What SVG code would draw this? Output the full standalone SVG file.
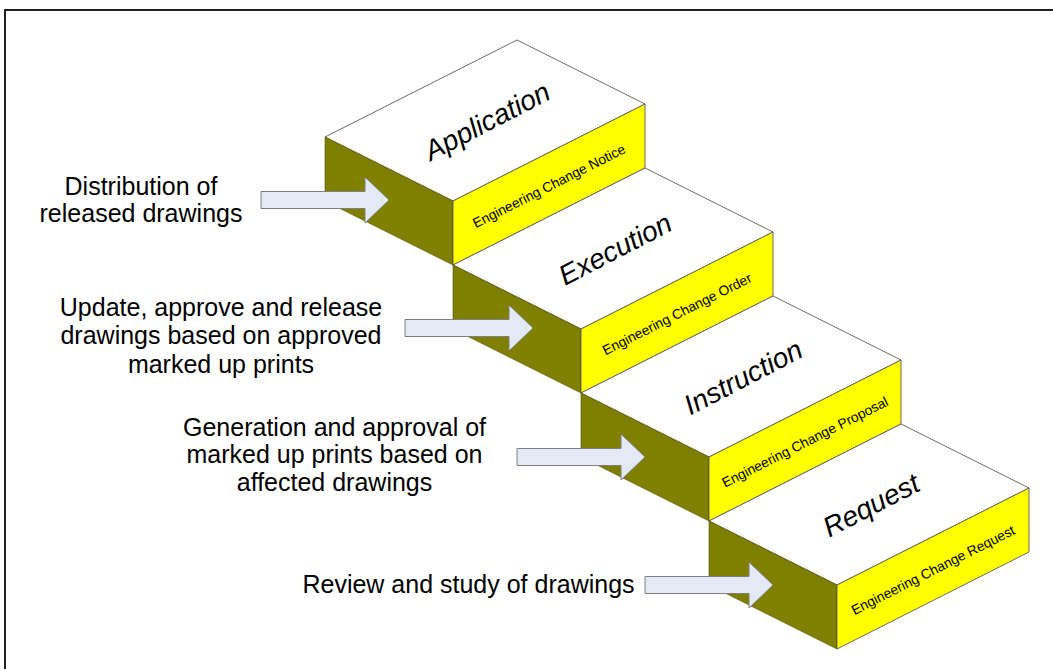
<svg xmlns="http://www.w3.org/2000/svg" width="1053" height="669" viewBox="0 0 1053 669">
<style>
.top{fill:#ffffff;stroke:#5a5a5a;stroke-width:0.9;stroke-linejoin:round}
.left{fill:#808000;stroke:#4d4d00;stroke-width:0.6;stroke-linejoin:round}
.front{fill:#ffff00;stroke:#5a5a5a;stroke-width:0.9;stroke-linejoin:round}
.ttl{font-family:"Liberation Sans",Arial,sans-serif;font-size:28px;font-style:italic;fill:#000;text-anchor:middle}
.sub{font-family:"Liberation Sans",Arial,sans-serif;font-size:13.8px;fill:#000;text-anchor:middle}
.lbl{font-family:"Liberation Sans",Arial,sans-serif;font-size:25px;fill:#000;text-anchor:middle}
.arrow{fill:#e4eaf5;stroke:#7f7f7f;stroke-width:1;stroke-linejoin:miter}
</style>
<defs>
<polygon id="blockArrow" class="arrow" points="-128,-8.5 -24,-8.5 -24,-23 0,0 -24,23 -24,8.5 -128,8.5"/>
</defs>
<rect x="0" y="0" width="1053" height="669" fill="#ffffff"/>
<path d="M5,669 V10 H1053" fill="none" stroke="#222" stroke-width="2"/>

<g id="step-application">
<polygon class="top" points="325,137 517,40 645,104 453,201"/>
<polygon class="left" points="325,137 453,201 453,265 325,201"/>
<polygon class="front" points="453,201 645,104 645,168 453,265"/>
<text class="ttl" transform="translate(487,121) rotate(-27.5)" dy="0.35em">Application</text>
<text class="sub" transform="translate(549,186) rotate(-26.8)" dy="0.35em">Engineering Change Notice</text>
</g>

<g id="step-execution">
<polygon class="top" points="453,265 645,168 773,232 581,329"/>
<polygon class="left" points="453,265 581,329 581,393 453,329"/>
<polygon class="front" points="581,329 773,232 773,296 581,393"/>
<text class="ttl" transform="translate(615,249) rotate(-27.5)" dy="0.35em">Execution</text>
<text class="sub" transform="translate(677,314) rotate(-26.8)" dy="0.35em">Engineering Change Order</text>
</g>

<g id="step-instruction">
<polygon class="top" points="581,393 773,296 901,360 709,457"/>
<polygon class="left" points="581,393 709,457 709,521 581,457"/>
<polygon class="front" points="709,457 901,360 901,424 709,521"/>
<text class="ttl" transform="translate(743,377) rotate(-27.5)" dy="0.35em">Instruction</text>
<text class="sub" transform="translate(805,442) rotate(-26.8)" dy="0.35em">Engineering Change Proposal</text>
</g>

<g id="step-request">
<polygon class="top" points="709,521 901,424 1029,488 837,585"/>
<polygon class="left" points="709,521 837,585 837,649 709,585"/>
<polygon class="front" points="837,585 1029,488 1029,552 837,649"/>
<text class="ttl" transform="translate(871,505) rotate(-27.5)" dy="0.35em">Request</text>
<text class="sub" transform="translate(933,570) rotate(-26.8)" dy="0.35em">Engineering Change Request</text>
</g>

<g id="label-distribution">
<text class="lbl" x="141" y="195">Distribution of</text>
<text class="lbl" x="141" y="222">released drawings</text>
</g>
<g id="label-update">
<text class="lbl" x="221" y="315.5">Update, approve and release</text>
<text class="lbl" x="221" y="344">drawings based on approved</text>
<text class="lbl" x="221" y="372.5">marked up prints</text>
</g>
<g id="label-generation">
<text class="lbl" x="334.5" y="435.5">Generation and approval of</text>
<text class="lbl" x="334.5" y="463">marked up prints based on</text>
<text class="lbl" x="334.5" y="491">affected drawings</text>
</g>
<g id="label-review">
<text class="lbl" x="468.5" y="593">Review and study of drawings</text>
</g>

<g id="connectors">
<use href="#blockArrow" transform="translate(389,200)"/>
<use href="#blockArrow" transform="translate(533,328)"/>
<use href="#blockArrow" transform="translate(645,457)"/>
<use href="#blockArrow" transform="translate(773,585)"/>
</g>
</svg>
